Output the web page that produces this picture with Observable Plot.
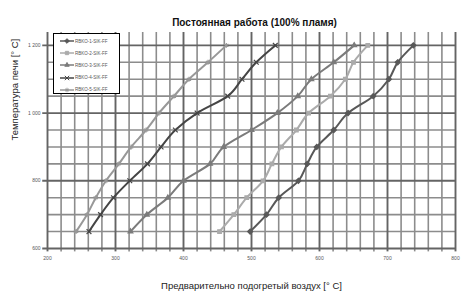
<!DOCTYPE html>
<html><head><meta charset="utf-8">
<script src="https://cdn.jsdelivr.net/npm/d3@7"></script>
<script src="https://cdn.jsdelivr.net/npm/@observablehq/plot@0.6"></script>
<style>
body{margin:0;background:#fff;font-family:"Liberation Sans",Arial,sans-serif;}
#wrap{position:relative;width:467px;height:299px;}
#legend{position:absolute;left:53px;top:33px;width:67px;height:61px;border:1px solid #000;background:#fff;box-sizing:border-box;}
.li{position:absolute;left:6px;height:8px;display:flex;align-items:center;font-size:4.5px;color:#555;white-space:nowrap;}
.li svg{margin-right:1px;}
</style></head>
<body><div id="wrap"><div id="legend"></div></div>
<script>
const title = "Постоянная работа (100% пламя)";
const xLabel = "Предварительно подогретый воздух [° C]";
const yLabel = "Температура печи [° C]";
const seriesNames = ["RBKO-1-SIK-FF","RBKO-2-SIK-FF","RBKO-3-SIK-FF","RBKO-4-SIK-FF","RBKO-5-SIK-FF"];
const seriesColors = ["#585858","#ababab","#7b7b7b","#454545","#989898"];
const seriesSymbols = ["diamond2","square2","triangle2","times","asterisk"];
const furnaceTemp = [650,700,750,800,850,900,950,1000,1050,1100,1150,1200];
const s1 = [498,522,540,569,582,596,621,642,679,702,715,738];
const s2 = [453,474,493,517,530,544,566,584,616,638,650,671];
const s3 = [322,346,377,400,439,459,500,538,568,588,621,651];
const s4 = [261,278,297,321,347,367,388,420,465,486,507,535];
const s5 = [242,258,271,286,305,323,345,364,386,408,436,463];
const xTicks = [200,300,400,500,600,700,800];
const yTicks = [600,800,1000,1200];
const yTickLabels = ["600","800","1 000","1 200"];
const xMinor = d3.range(200, 801, 20);
const yMinor = d3.range(600, 1201, 50);

const allSeries = [s1,s2,s3,s4,s5];
const rows = allSeries.flatMap((s, k) => s.map((x, i) => ({series: seriesNames[k], x, y: furnaceTemp[i]})));

const marks = [
  Plot.ruleX(xMinor.filter(v => v % 100 !== 0), {y1: 590, y2: 1238, stroke:"rgb(140,140,140)", strokeWidth:1.6}),
  Plot.ruleY(yMinor.filter(v => v % 200 !== 0), {x1: 200, x2: 800, stroke:"rgb(140,140,140)", strokeWidth:1.6}),
  Plot.ruleX(xTicks, {y1: 590, y2: 1238, stroke:"rgb(100,100,100)", strokeWidth:1.9}),
  Plot.ruleY(yTicks, {x1: 193, x2: 800, stroke:"rgb(100,100,100)", strokeWidth:1.9}),
  Plot.axisX({ticks: xTicks, tickSize: 0, tickPadding: 8, fontSize: 5, label: null, fill:"#555"}),
  Plot.axisY({ticks: yTicks, tickSize: 0, tickPadding: 7, fontSize: 5, label: null, fill:"#555",
    tickFormat: d => yTickLabels[yTicks.indexOf(d)]}),
];
seriesNames.forEach((name, k) => {
  const data = rows.filter(r => r.series === name);
  marks.push(Plot.line(data, {x:"x", y:"y", stroke: seriesColors[k], strokeWidth: 2, curve:"monotone-y"}));
  marks.push(Plot.dot(data, {x:"x", y:"y", symbol: () => seriesSymbols[k], r: 2.3,
    fill: seriesSymbols[k].endsWith("2") ? seriesColors[k] : "none",
    stroke: seriesColors[k], strokeWidth: 1.2}));
});
marks.push(Plot.text([title], {frameAnchor:"top", dy:-14, fontSize:10, fontWeight:"bold", fill:"#111", dx: 3}));
marks.push(Plot.text([xLabel], {frameAnchor:"bottom", dy:40, fontSize:9.5, fill:"#222", dx: 0}));
marks.push(Plot.text([yLabel], {frameAnchor:"left", dx:-33, rotate:-90, fontSize:9.5, fill:"#222", dy: 0}));

const chart = Plot.plot({
  width: 467, height: 299,
  marginLeft: 47, marginRight: 12, marginTop: 32, marginBottom: 51,
  style: {fontFamily: '"Liberation Sans", Arial, sans-serif'},
  x: {domain: [200, 800]},
  y: {domain: [600, 1238]},
  marks
});
document.getElementById("wrap").prepend(chart);

const legend = d3.select("#legend");
seriesNames.forEach((name, k) => {
  const item = legend.append("div").attr("class","li").style("top", (3 + k*12.2) + "px");
  const svg = item.append("svg").attr("width", 14).attr("height", 8);
  svg.append("line").attr("x1",0).attr("x2",14).attr("y1",4).attr("y2",4)
    .attr("stroke", seriesColors[k]).attr("stroke-width", 1.5);
  const symMap = {diamond2: d3.symbolDiamond2, square2: d3.symbolSquare2, triangle2: d3.symbolTriangle2, times: d3.symbolTimes, asterisk: d3.symbolAsterisk};
  const filled = seriesSymbols[k].endsWith("2");
  svg.append("path").attr("transform","translate(7,4)")
    .attr("d", d3.symbol(symMap[seriesSymbols[k]], 14)())
    .attr("fill", filled ? seriesColors[k] : "none").attr("stroke", seriesColors[k]).attr("stroke-width", 1);
  item.append("span").text(name);
});
</script></body></html>
